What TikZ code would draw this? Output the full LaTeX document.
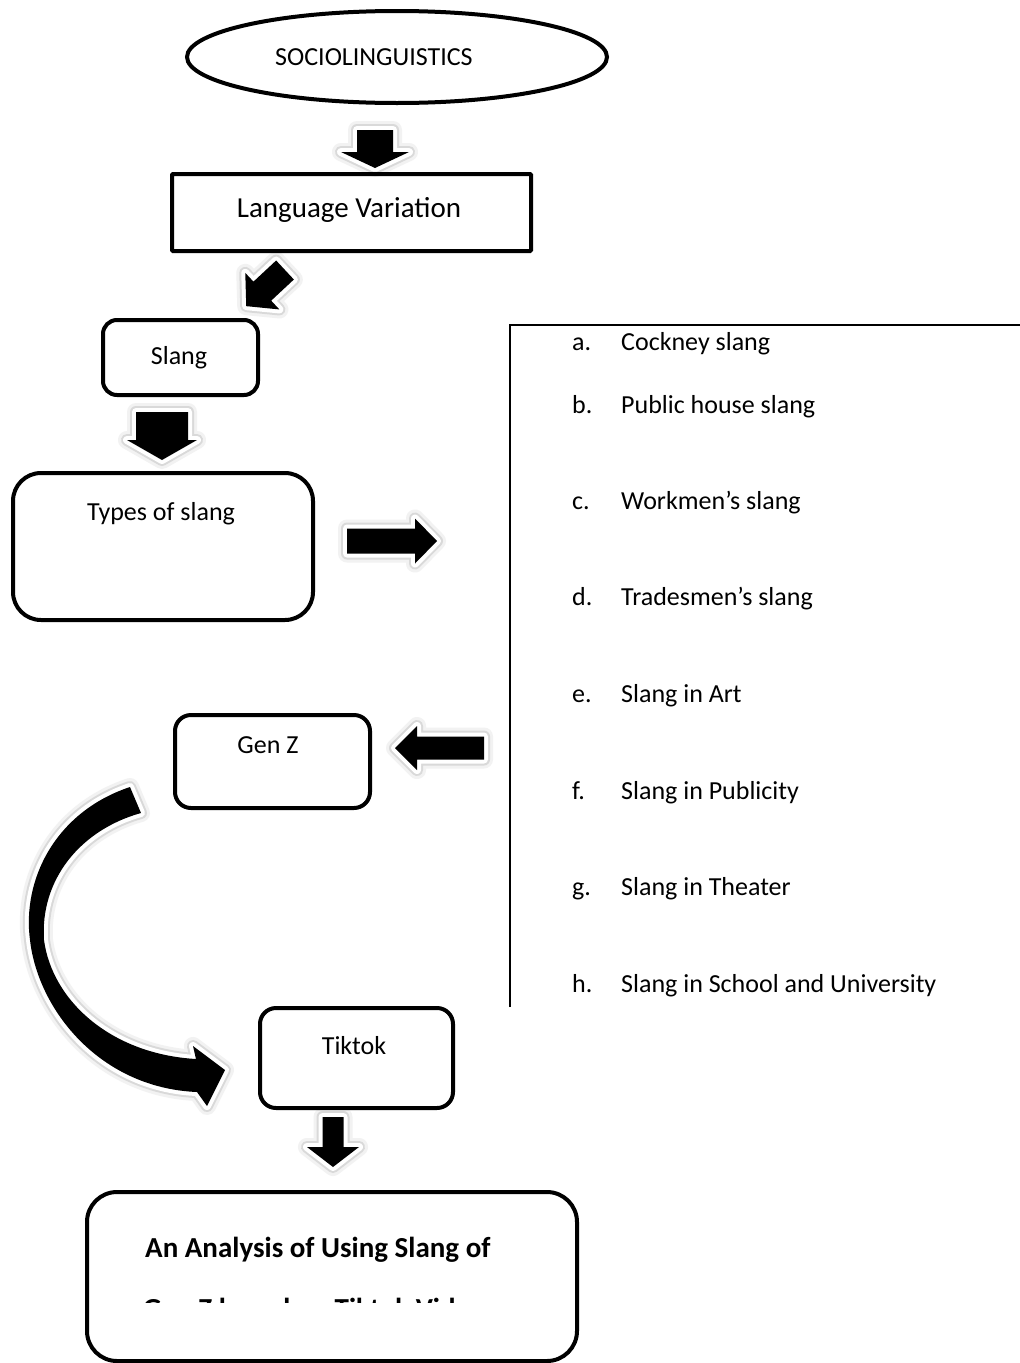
\documentclass[tikz,border=0pt]{standalone}
\usepackage{fontspec}
\setmainfont{Carlito}
\usetikzlibrary{shapes.geometric}
\tikzset{
  rbox/.style={draw=black, line width=4pt, fill=none},
  txt/.style={font=\fontsize{26}{31}\selectfont, inner sep=0pt},
  ltxt/.style={font=\fontsize{29}{35}\selectfont, inner sep=0pt},
  btxt/.style={font=\fontsize{29}{35}\selectfont\bfseries, inner sep=0pt},
  blockarr/.style={
    preaction={draw=gray!10, fill=gray!10, line width=18pt, line join=round},
    preaction={draw=gray!30, fill=gray!30, line width=12pt, line join=round},
    preaction={draw=white, fill=white, line width=8pt, line join=round},
    fill=black},
  pics/barrow/.style n args={4}{code={
    \path[blockarr] (0,{-#2/2}) -- ({#1-#4},{-#2/2}) -- ({#1-#4},{-#3/2}) -- (#1,0)
      -- ({#1-#4},{#3/2}) -- ({#1-#4},{#2/2}) -- (0,{#2/2}) -- cycle;
  }},
}
\begin{document}
\begin{tikzpicture}[x=1pt, y=-1pt]
\fill[white] (0,0) rectangle (1020,1363);
\useasboundingbox (0,0) rectangle (1020,1363);

% ---- block arrows (drawn first, boxes on top)
\pic[rotate=-90] (a1) at (375,130) {barrow={38}{36}{68}{16}};
\pic[rotate=-137] (a2) at (285,270) {barrow={53}{26}{50}{22}};
\pic[rotate=-90] (a3) at (162,412) {barrow={48}{52}{70}{20}};
\pic (a4) at (347,541) {barrow={90}{25}{45}{22}};
\pic[rotate=180] (a5) at (484,748) {barrow={89}{23}{44}{22}};
\pic[rotate=-90] (a6) at (333,1117) {barrow={50}{21}{52}{20}};

% curved arrow Gen Z -> Tiktok
\coordinate (cstart) at (135,800);
\coordinate (cend) at (225,1070);
\path[blockarr] (130,787) .. controls (55,812) and (22,880) .. (30,940)
  .. controls (38,1010) and (100,1088) .. (197,1092)
  -- (207,1106) -- (cend) -- (193,1046) -- (196,1059)
  .. controls (110,1054) and (52,1000) .. (44,940)
  .. controls (40,880) and (80,830) .. (141,813) -- cycle;

% ---- nodes
\node[ellipse, draw=black, line width=4pt, minimum width=420pt, minimum height=92pt, inner sep=0pt] (socio) at (397,57) {};
\node[txt, anchor=base west] (sociotxt) at (275,65) {SOCIOLINGUISTICS};

\node[rbox, rounded corners=1pt, minimum width=359pt, minimum height=77pt] (lv) at (351.5,212.5) {};
\node[ltxt, anchor=base] (lvtxt) at (349,217) {Language Variation};

\node[rbox, rounded corners=14pt, minimum width=155pt, minimum height=75pt] (slang) at (180.5,357.5) {};
\node[txt, anchor=base] (slangtxt) at (179,364) {Slang};

\node[rbox, rounded corners=28pt, minimum width=300pt, minimum height=147pt] (types) at (163,546.5) {};
\node[txt, anchor=base] (typestxt) at (161,520) {Types of slang};

\draw[line width=2pt] (510,1007) -- (510,325) -- (1020,325);
\coordinate (listtop) at (765,325);

\foreach \l/\t/\y [count=\i] in {a./Cockney slang/350, b./Public house slang/413,
  c./Workmen’s slang/509, d./Tradesmen’s slang/605, e./Slang in Art/702,
  f./Slang in Publicity/799, g./Slang in Theater/895, h./Slang in School and University/992}{
  \node[txt, anchor=base west] (lab\i) at (572,\y) {\l};
  \node[txt, anchor=base west] (item\i) at (621,\y) {\t};
}

\node[rbox, rounded corners=16pt, minimum width=195pt, minimum height=93pt] (genz) at (272.5,761.5) {};
\node[txt, anchor=base] (genztxt) at (268,753) {Gen Z};

\node[rbox, rounded corners=16pt, minimum width=193pt, minimum height=100pt] (tiktok) at (356.5,1058) {};
\node[txt, anchor=base] (tiktoktxt) at (354,1054) {Tiktok};

\node[rbox, rounded corners=30pt, minimum width=490pt, minimum height=169pt] (title) at (332,1276.5) {};
\node[btxt, anchor=base west] (title1) at (145,1257) {An Analysis of Using Slang of};
\begin{scope}
  \clip (90,1200) rectangle (570,1302);
  \node[btxt, anchor=base west] (title2) at (143,1318) {Gen Z based on Tiktok Videos};
\end{scope}
\end{tikzpicture}
\end{document}
